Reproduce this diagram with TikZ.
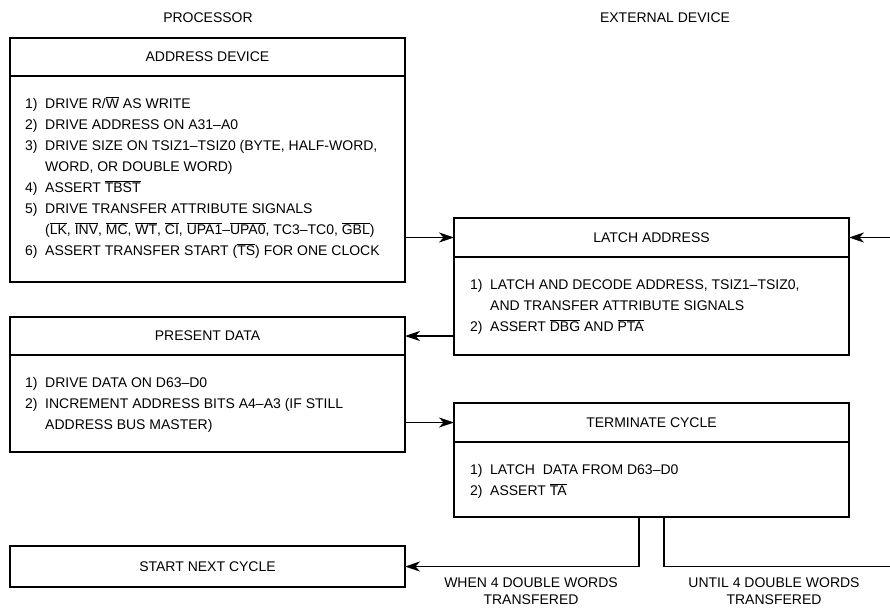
\documentclass[tikz,border=0pt]{standalone}
\usepackage{fontspec}
\setmainfont{Liberation Sans}
\usetikzlibrary{arrows.meta,positioning}
\tikzset{head/.style={draw,line width=2.4pt,minimum width=395pt,minimum height=38.5pt,inner sep=0pt,outer sep=0pt},
body/.style={head,anchor=north},
steps/.style={anchor=north west,inner sep=0pt,align=left},
flow/.style={-{Stealth[length=15pt,width=10pt,inset=4.5pt]},line width=1.3pt},
wire/.style={line width=1.3pt},
note/.style={align=center,font=\fontsize{14}{17}\selectfont}}
\newcommand\ovl[1]{$\overline{\mbox{#1}}$}

\begin{document}
\begin{tikzpicture}[x=1pt,y=-1pt,font=\fontsize{14}{21}\selectfont]
\useasboundingbox (0,0) rectangle (890,607);
\node (proc) at (208,18) {PROCESSOR};
\node (ext) at (665,18) {EXTERNAL DEVICE};
% processor side
\node[head,minimum height=38pt] (addrhead) at (207.5,57) {ADDRESS DEVICE};
\node[body,minimum height=206pt,below=0pt of addrhead] (addrbody) {};
\node[steps,below right=17.5pt and 15pt of addrhead.south west] (addrsteps) {\begin{tabular}{@{}p{20pt}@{}l@{}}
1) & DRIVE R/\ovl{W} AS WRITE\\
2) & DRIVE ADDRESS ON A31--A0\\
3) & DRIVE SIZE ON TSIZ1--TSIZ0 (BYTE, HALF-WORD,\\
   & WORD, OR DOUBLE WORD)\\
4) & ASSERT \ovl{TBST}\\
5) & DRIVE TRANSFER ATTRIBUTE SIGNALS\\
   & (\ovl{LK}, \ovl{INV}, \ovl{MC}, \ovl{WT}, \ovl{CI}, \ovl{UPA1}--\ovl{UPA0}, TC3--TC0, \ovl{GBL})\\
6) & ASSERT TRANSFER START (\ovl{TS}) FOR ONE CLOCK
\end{tabular}};
\node[head,minimum height=38pt] (presenthead) at (207.5,336) {PRESENT DATA};
\node[body,minimum height=97pt,below=0pt of presenthead] (presentbody) {};
\node[steps,below right=17.5pt and 15pt of presenthead.south west] (presentsteps) {\begin{tabular}{@{}p{20pt}@{}l@{}}
1) & DRIVE DATA ON D63--D0\\
2) & INCREMENT ADDRESS BITS A4--A3 (IF STILL\\
   & ADDRESS BUS MASTER)
\end{tabular}};
\node[head,minimum height=41pt] (nextcycle) at (207.5,566.5) {START NEXT CYCLE};
% external device side
\node[head,minimum height=39pt] (latchhead) at (651.5,237.5) {LATCH ADDRESS};
\node[body,minimum height=98pt,below=0pt of latchhead] (latchbody) {};
\node[steps,below right=17.5pt and 16pt of latchhead.south west] (latchsteps) {\begin{tabular}{@{}p{20pt}@{}l@{}}
1) & LATCH AND DECODE ADDRESS, TSIZ1--TSIZ0,\\
   & AND TRANSFER ATTRIBUTE SIGNALS\\
2) & ASSERT \ovl{DBG} AND \ovl{PTA}
\end{tabular}};
\node[head,minimum height=39pt] (termhead) at (651.5,422.5) {TERMINATE CYCLE};
\node[body,minimum height=75pt,below=0pt of termhead] (termbody) {};
\node[steps,below right=17.5pt and 16pt of termhead.south west] (termsteps) {\begin{tabular}{@{}p{20pt}@{}l@{}}
1) & LATCH\ \ DATA FROM D63--D0\\
2) & ASSERT \ovl{TA}
\end{tabular}};
% connectors
\coordinate (busin) at (890,237.5);
\coordinate (whenturn) at (639,566.5);
\coordinate (untilturn) at (664,566.5);
\coordinate (untilend) at (890,566.5);
\draw[flow] (addrbody.east |- latchhead) -- (latchhead.west);
\draw[flow] (busin) -- (latchhead.east);
\draw[flow] (latchbody.west |- presenthead) -- (presenthead.east);
\draw[flow] (presentbody.east |- termhead) -- (termhead.west);
\draw[flow] (whenturn |- termbody.south) -- (whenturn) -- (nextcycle.east);
\draw[wire] (untilturn |- termbody.south) -- (untilturn) -- (untilend);
\node[note] (whenlbl) at (531,591) {WHEN 4 DOUBLE WORDS\\TRANSFERED};
\node[note] (untillbl) at (774,591) {UNTIL 4 DOUBLE WORDS\\TRANSFERED};
\end{tikzpicture}
\end{document}
